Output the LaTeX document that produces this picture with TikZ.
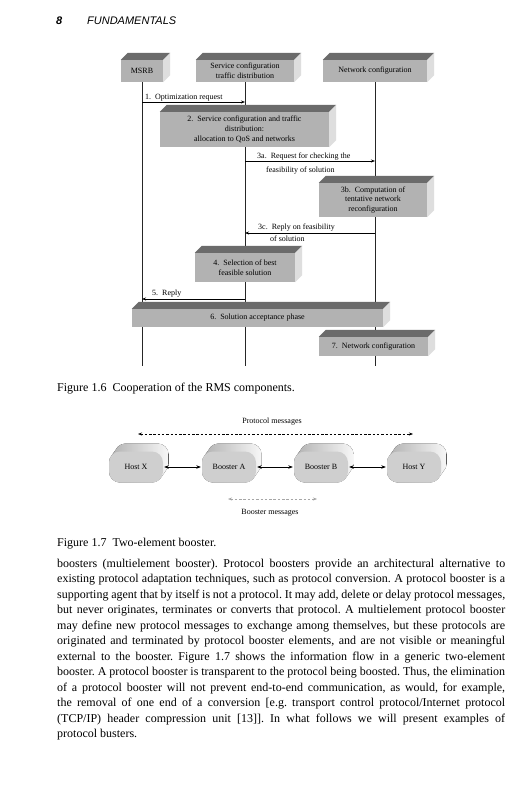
\documentclass[tikz,border=0pt]{standalone}
\usepackage{fontspec}
\setmainfont{Liberation Serif}
\newfontfamily\hdrfont{Liberation Sans}
\usetikzlibrary{arrows.meta,calc}
\definecolor{boxfront}{gray}{0.70}
\definecolor{boxtop}{gray}{0.42}
\definecolor{boxside}{gray}{0.87}
\definecolor{hostfront}{gray}{0.81}
\frenchspacing
\newcommand\dfont{\fontsize{8}{9.8}\selectfont}
\newcommand\bfont{\fontsize{12}{14}\selectfont}
\newcommand\cubox[6]{%
  \node[frontface, minimum width=#4, minimum height=#5] (#1) at (#2,#3) {#6};
  \fill[boxtop] (#1.north west) -- ++(7,-7) -- ($(#1.north east)+(7,-7)$) -- (#1.north east) -- cycle;
  \fill[boxside] (#1.north east) -- ++(7,-7) -- ($(#1.south east)+(7,-7)$) -- (#1.south east) -- cycle;}
\newcommand\hostsh[4]{%
  \fill[rounded corners=11pt, left color=gray!62, right color=gray!6]
    \foreach \k in {0,0.5,...,8}{({#2-27+0.7*\k},{#3-15.5-\k}) rectangle ++(54,31)};
  \node[hostface] (#1) at (#2,#3) {#4};}
\newcommand\bline[3]{%
  \node[anchor=base west, inner sep=0, font=\bfont] (#1) at (57,#2) {\makebox[448pt][s]{#3}};}
\begin{document}
\begin{tikzpicture}[x=1pt,y=-1pt,
  frontface/.style={fill=boxfront, inner sep=0, align=center, font=\dfont},
  hostface/.style={fill=hostfront, rounded corners=11pt, minimum width=54, minimum height=31, inner sep=0, font=\dfont},
  lbl/.style={inner sep=0, font=\dfont, anchor=base west},
  life/.style={line width=0.6pt, black!85},
  msg/.style={line width=0.6pt, -{Stealth[length=4pt,width=3pt]}},
  link/.style={line width=0.6pt, {Stealth[length=4.5pt,width=3.5pt]}-{Stealth[length=4.5pt,width=3.5pt]}, shorten <=1pt, shorten >=1pt},
  dmsg/.style={line width=0.6pt, dash pattern=on 2.5pt off 1.8pt, {Stealth[length=4pt,width=3pt]}-{Stealth[length=4pt,width=3pt]}}]
\useasboundingbox[fill=white] (0,0) rectangle (531,800);

% header
\node[anchor=base west, inner sep=0, font=\hdrfont\fontsize{11}{13}\selectfont\bfseries\itshape] (pg) at (56,25) {8};
\node[anchor=base west, inner sep=0, font=\hdrfont\fontsize{11}{13}\selectfont\itshape] (hd) at (87,25) {FUNDAMENTALS};

% ---------- Figure 1.6 ----------
\cubox{msrb}{142}{71}{42}{22}{MSRB}
\cubox{svc}{245}{71}{98}{22}{Service configuration\\traffic distribution}
\cubox{net}{375}{71}{104}{22}{Network configuration}

\coordinate (mb) at (142,366);
\coordinate (sb) at (245,366);
\coordinate (nb) at (375,366);
\draw[life] (msrb.south) -- (mb);
\draw[life] (svc.south) -- (sb);
\draw[life] (net.south) -- (nb);

% messages
\draw[msg] (msrb.south |- 0,102) -- (svc.south |- 0,102);
\node[lbl] (t1) at (145,99.5) {1.\ \ Optimization request};

\cubox{b2}{244.5}{129.5}{169}{35}{2.\ \ Service configuration and traffic\\distribution:\\allocation to QoS and networks}

\draw[msg] (svc.south |- 0,161) -- (net.south |- 0,161);
\node[lbl] (t3a) at (257,158.5) {3a.\ \ Request for checking the};
\node[lbl] (t3a2) at (266,172.5) {feasibility of solution};

\cubox{b3}{373}{200}{108}{34}{3b.\ \ Computation of\\tentative network\\reconfiguration}

\draw[msg] (net.south |- 0,233) -- (svc.south |- 0,233);
\node[lbl] (t3c) at (258,229.5) {3c.\ \ Reply on feasibility};
\node[lbl] (t3c2) at (270,241.5) {of solution};

\cubox{b4}{245}{267.5}{100}{29}{4.\ \ Selection of best\\feasible solution}

\draw[msg] (svc.south |- 0,299) -- (msrb.south |- 0,299);
\node[lbl] (t5) at (152,295.5) {5.\ \ Reply};

\cubox{b6}{257.5}{318}{251}{18}{6.\ \ Solution acceptance phase}
\cubox{b7}{373.5}{346.5}{109}{19}{7.\ \ Network configuration}

\node[anchor=base west, inner sep=0, font=\bfont] (cap1) at (57,391) {Figure 1.6\ \ Cooperation of the RMS components.};

% ---------- Figure 1.7 ----------
\node[inner sep=0, font=\dfont] (pm) at (272,422) {Protocol messages};
\coordinate (pl) at (138,434);
\coordinate (pr) at (413,434);
\draw[dmsg] (pl) -- (pr);

\hostsh{hx}{136}{467}{Host X}
\hostsh{ba}{229}{467}{Booster A}
\hostsh{bb}{321}{467}{Booster B}
\hostsh{hy}{414}{467}{Host Y}

\draw[link] (hx.east) -- (ba.west);
\draw[link] (ba.east) -- (bb.west);
\draw[link] (bb.east) -- (hy.west);

\coordinate (bl) at (228,499);
\coordinate (br) at (317,499);
\draw[dmsg, gray!70] (bl) -- (br);
\node[inner sep=0, font=\dfont] (bm) at (270,513) {Booster messages};

\node[anchor=base west, inner sep=0, font=\bfont] (cap2) at (57,546) {Figure 1.7\ \ Two-element booster.};

% ---------- body text ----------
\bline{l1}{567}{boosters (multielement booster). Protocol boosters provide an architectural alternative to}
\bline{l2}{582.5}{existing protocol adaptation techniques, such as protocol conversion. A protocol booster is a}
\bline{l3}{598}{supporting agent that by itself is not a protocol. It may add, delete or delay protocol messages,}
\bline{l4}{613.5}{but never originates, terminates or converts that protocol. A multielement protocol booster}
\bline{l5}{629}{may define new protocol messages to exchange among themselves, but these protocols are}
\bline{l6}{644.5}{originated and terminated by protocol booster elements, and are not visible or meaningful}
\bline{l7}{660}{external to the booster. Figure 1.7 shows the information flow in a generic two-element}
\bline{l8}{675.5}{booster. A protocol booster is transparent to the protocol being boosted. Thus, the elimination}
\bline{l9}{691}{of a protocol booster will not prevent end-to-end communication, as would, for example,}
\bline{l10}{706.5}{the removal of one end of a conversion [e.g. transport control protocol/Internet protocol}
\bline{l11}{722}{(TCP/IP) header compression unit [13]]. In what follows we will present examples of}
\node[anchor=base west, inner sep=0, font=\bfont] (l12) at (57,737.5) {protocol busters.};
\end{tikzpicture}
\end{document}
